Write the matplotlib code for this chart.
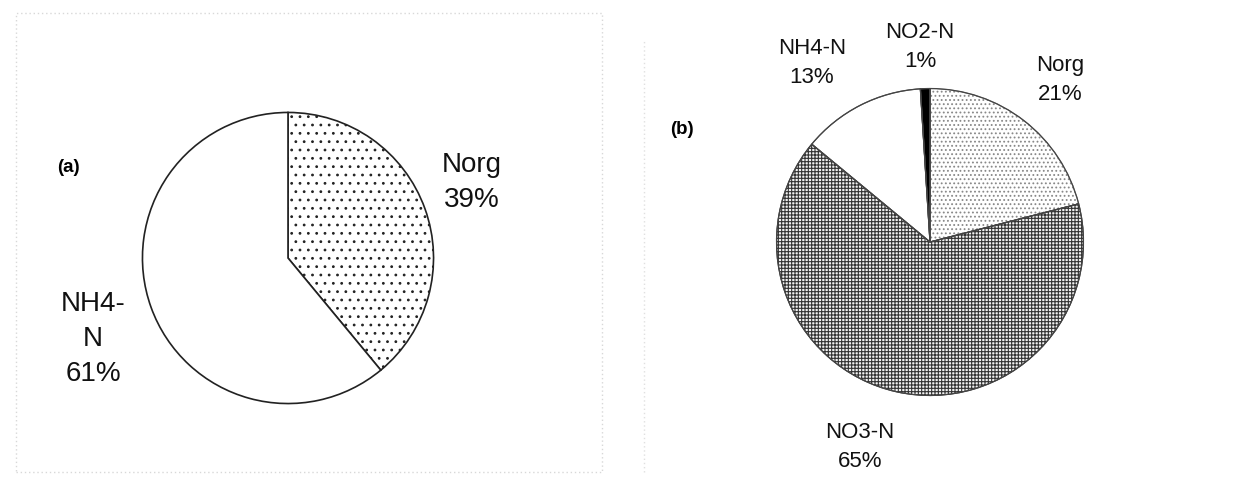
import matplotlib.pyplot as plt
from matplotlib.patches import PathPatch, Rectangle

plt.rcParams["font.family"] = ["Liberation Sans", "DejaVu Sans"]
plt.rcParams["hatch.linewidth"] = 0.8

# panel (a)
a_labels = ["Norg", "NH4-N"]
a_values = [39, 61]
a_text = ["Norg\n39%", "NH4-\nN\n61%"]

# panel (b), clockwise from 12 o'clock
b_labels = ["Norg", "NO3-N", "NH4-N", "NO2-N"]
b_values = [21, 65, 13, 1]
b_text = ["Norg\n21%", "NO3-N\n65%", "NH4-N\n13%", "NO2-N\n1%"]

W, H = 1236, 495
fig = plt.figure(figsize=(W / 100, H / 100), dpi=100)


def px_axes(cx, cy, r):
    return fig.add_axes([(cx - r) / W, (H - cy - r) / H, 2 * r / W, 2 * r / H])


# faint dotted frames around the panels
fig.patches.append(Rectangle((16 / W, (H - 472) / H), 586 / W, 459 / H,
                             transform=fig.transFigure, fill=False,
                             edgecolor="#d8d8d8", linestyle=(0, (1, 2)), linewidth=1))
fig.lines.append(plt.Line2D([644 / W, 644 / W], [(H - 472) / H, (H - 40) / H],
                            transform=fig.transFigure, color="#e0e0e0",
                            linestyle=(0, (1, 2)), linewidth=1))

ax1 = px_axes(288, 258, 147)
w1, _ = ax1.pie(a_values, startangle=90, counterclock=False, radius=1,
                colors=["white", "white"],
                wedgeprops=dict(edgecolor="#222222", linewidth=1.2))
w1[0].set_hatch("..")
ax1.set_xlim(-1.01, 1.01)
ax1.set_ylim(-1.01, 1.01)
ax1.set_aspect("equal")
ax1.axis("off")

ax2 = px_axes(930, 242, 155)
w2, _ = ax2.pie(b_values, startangle=90, counterclock=False, radius=1,
                colors=["white", "#f2f2f2", "white", "black"],
                wedgeprops=dict(edgecolor="#555555", linewidth=0.8))
w2[0].set_hatch("....")
w2[0].set_edgecolor("#888888")
w2[1].set_hatch("+++++")
w2[1].set_edgecolor("#333333")
ax2.set_xlim(-1.01, 1.01)
ax2.set_ylim(-1.01, 1.01)
ax2.set_aspect("equal")
ax2.axis("off")

# clean outlines on top of the hatched wedges
for w in w2:
    ax2.add_patch(PathPatch(w.get_path(), fill=False, edgecolor="#444444",
                            linewidth=0.9))

big = dict(fontsize=20, ha="center", va="center", color="#111111", linespacing=1.45)
fig.text(472 / W, 1 - 183 / H, a_text[0], **big)
fig.text(93 / W, 1 - 339 / H, a_text[1], **big)
fig.text(68 / W, 1 - 168 / H, "(a)", fontsize=13.5, fontweight="bold",
         ha="center", va="center")

small = dict(fontsize=16, ha="center", va="center", color="#111111", linespacing=1.45)
fig.text(1060 / W, 1 - 80 / H, b_text[0], **small)
fig.text(860 / W, 1 - 447 / H, b_text[1], **small)
fig.text(812 / W, 1 - 63 / H, b_text[2], **small)
fig.text(920 / W, 1 - 47 / H, b_text[3], **small)
fig.text(682 / W, 1 - 130 / H, "(b)", fontsize=13.5, fontweight="bold",
         ha="center", va="center")

fig.savefig("out.png", dpi=100, facecolor="white")
